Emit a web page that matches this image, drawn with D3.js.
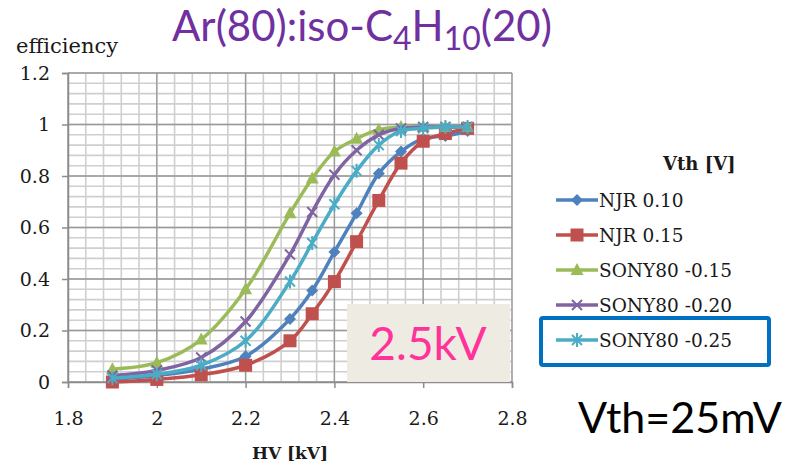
<!DOCTYPE html>
<html>
<head>
<meta charset="utf-8">
<script src="https://cdn.jsdelivr.net/npm/d3@7"></script>
<style>
  body { margin: 0; background: #fff; }
  svg { display: block; }
</style>
</head>
<body>
<div id="vis"></div>
<script>
// HV points (kV) shared by every series
const hv = [1.9, 2.0, 2.1, 2.2, 2.3, 2.35, 2.4, 2.45, 2.5, 2.55, 2.6, 2.65, 2.7];

const njr010 = [0.01, 0.025, 0.05, 0.10, 0.245, 0.355, 0.505, 0.655, 0.81, 0.895, 0.945, 0.955, 0.975];
const njr015 = [0.0, 0.01, 0.028, 0.065, 0.16, 0.265, 0.39, 0.545, 0.705, 0.85, 0.935, 0.965, 0.985];
const sony015 = [0.05, 0.075, 0.165, 0.36, 0.655, 0.79, 0.895, 0.945, 0.98, 0.99, 0.99, 0.99, 0.99];
const sony020 = [0.025, 0.045, 0.095, 0.235, 0.495, 0.66, 0.805, 0.90, 0.96, 0.985, 0.99, 0.99, 0.99];
const sony025 = [0.015, 0.03, 0.065, 0.16, 0.39, 0.54, 0.69, 0.82, 0.92, 0.975, 0.985, 0.99, 0.99];

const seriesNames = ["NJR 0.10", "NJR 0.15", "SONY80 -0.15", "SONY80 -0.20", "SONY80 -0.25"];
const seriesValues = [njr010, njr015, sony015, sony020, sony025];
const seriesColors = ["#4F81BD", "#C0504D", "#9BBB59", "#8064A2", "#4BACC6"];
const seriesMarkers = ["diamond", "square", "triangle", "x", "star"];

const xTicks = [1.8, 2, 2.2, 2.4, 2.6, 2.8];
const yTicks = [0, 0.2, 0.4, 0.6, 0.8, 1, 1.2];

var W = 785, H = 464;
var plot = {left: 68, right: 512, top: 73, bottom: 382};
var serif = "'DejaVu Serif', serif";
var sans = "Lato, 'Open Sans', sans-serif";

var svg = d3.select("#vis").append("svg").attr("width", W).attr("height", H);

var x = d3.scaleLinear().domain([1.8, 2.8]).range([plot.left, plot.right]);
var y = d3.scaleLinear().domain([0, 1.2]).range([plot.bottom, plot.top]);

// minor grid every 0.04, major every 0.2
var minorX = d3.range(0, 26).map(i => 1.8 + i * 0.04);
var minorY = d3.range(0, 31).map(i => i * 0.04);
var grid = svg.append("g");
grid.selectAll(".mx").data(minorX).join("line")
  .attr("x1", d => x(d)).attr("x2", d => x(d))
  .attr("y1", plot.top).attr("y2", plot.bottom)
  .attr("stroke", "#cfcfcf").attr("stroke-width", 1.6);
grid.selectAll(".my").data(minorY).join("line")
  .attr("y1", d => y(d)).attr("y2", d => y(d))
  .attr("x1", plot.left).attr("x2", plot.right)
  .attr("stroke", "#cfcfcf").attr("stroke-width", 1.6);
grid.selectAll(".Mx").data(xTicks).join("line")
  .attr("x1", d => x(d)).attr("x2", d => x(d))
  .attr("y1", plot.top).attr("y2", plot.bottom)
  .attr("stroke", "#999").attr("stroke-width", 1.3);
grid.selectAll(".My").data(yTicks).join("line")
  .attr("y1", d => y(d)).attr("y2", d => y(d))
  .attr("x1", plot.left).attr("x2", plot.right)
  .attr("stroke", "#999").attr("stroke-width", 1.3);

// axes
var xAxis = svg.append("g")
  .attr("transform", "translate(0," + plot.bottom + ")")
  .call(d3.axisBottom(x).tickValues(xTicks).tickFormat(d3.format("")).tickSize(6).tickPadding(24));
var yAxis = svg.append("g")
  .attr("transform", "translate(" + plot.left + ",0)")
  .call(d3.axisLeft(y).tickValues(yTicks).tickFormat(d3.format("")).tickSize(6).tickPadding(12));
[xAxis, yAxis].forEach(a => {
  a.attr("font-family", serif);
  a.select(".domain").attr("stroke", "#8c8c8c").attr("stroke-width", 1.5);
  a.selectAll(".tick line").attr("stroke", "#8c8c8c").attr("stroke-width", 1.5);
  a.selectAll("text").attr("font-family", serif).attr("font-size", 19).attr("fill", "#1a1a1a");
});

svg.append("text").attr("x", 16).attr("y", 53)
  .attr("font-family", serif).attr("font-size", 21).attr("fill", "#1a1a1a")
  .text("efficiency");
svg.append("text").attr("x", 290).attr("y", 459).attr("text-anchor", "middle")
  .attr("font-family", serif).attr("font-size", 17).attr("font-weight", "bold").attr("fill", "#1a1a1a")
  .text("HV [kV]");

// marker shapes
function drawMarker(g, type, color) {
  if (type === "diamond") {
    g.append("path").attr("d", "M0,-6L6,0L0,6L-6,0Z").attr("fill", color);
  } else if (type === "square") {
    g.append("rect").attr("x", -6.5).attr("y", -6.5).attr("width", 13).attr("height", 13).attr("fill", color);
  } else if (type === "triangle") {
    g.append("path").attr("d", "M0,-7L6.5,5L-6.5,5Z").attr("fill", color);
  } else if (type === "x") {
    g.append("path").attr("d", "M-5,-5L5,5M5,-5L-5,5")
      .attr("stroke", color).attr("stroke-width", 2).attr("fill", "none");
  } else {
    g.append("path").attr("d", "M-5,-5L5,5M5,-5L-5,5M0,-7L0,7")
      .attr("stroke", color).attr("stroke-width", 2).attr("fill", "none");
  }
}

var line = d3.line().curve(d3.curveCatmullRom.alpha(0.5))
  .x(d => x(d[0])).y(d => y(d[1]));

for (var i = 0; i < seriesValues.length; i++) {
  var pts = hv.map((h, j) => [h, seriesValues[i][j]]);
  var g = svg.append("g");
  g.append("path").datum(pts)
    .attr("fill", "none").attr("stroke", seriesColors[i]).attr("stroke-width", 3.5)
    .attr("d", line);
  pts.forEach(p => {
    var m = g.append("g").attr("transform", "translate(" + x(p[0]) + "," + y(p[1]) + ")");
    drawMarker(m, seriesMarkers[i], seriesColors[i]);
  });
}

// legend
svg.append("text").attr("x", 663).attr("y", 170)
  .attr("font-family", serif).attr("font-size", 18).attr("font-weight", "bold").attr("fill", "#1a1a1a")
  .text("Vth [V]");
seriesNames.forEach((name, i) => {
  var ly = 200 + i * 35;
  var lg = svg.append("g");
  lg.append("line").attr("x1", 556).attr("x2", 598).attr("y1", ly).attr("y2", ly)
    .attr("stroke", seriesColors[i]).attr("stroke-width", 3.5);
  drawMarker(lg.append("g").attr("transform", "translate(577," + ly + ")"), seriesMarkers[i], seriesColors[i]);
  lg.append("text").attr("x", 599).attr("y", ly + 7)
    .attr("font-family", serif).attr("font-size", 18.5).attr("fill", "#1a1a1a")
    .text(name);
});
svg.append("rect").attr("x", 541).attr("y", 318).attr("width", 228).attr("height", 47)
  .attr("rx", 2).attr("fill", "none").attr("stroke", "#0070C0").attr("stroke-width", 4);

// annotations
svg.append("rect").attr("x", 347).attr("y", 304).attr("width", 163).attr("height", 78)
  .attr("fill", "#EEEBE2");
svg.append("text").attr("x", 428).attr("y", 360).attr("text-anchor", "middle")
  .attr("font-family", sans).attr("font-size", 46).attr("fill", "#FF3399")
  .text("2.5kV");
svg.append("text").attr("x", 578).attr("y", 433)
  .attr("font-family", sans).attr("font-size", 43).attr("fill", "#000")
  .text("Vth=25mV");

var title = svg.append("text").attr("x", 172).attr("y", 41)
  .attr("font-family", sans).attr("font-size", 42).attr("fill", "#7030A0");
title.append("tspan").text("Ar(80):iso-C");
title.append("tspan").attr("font-size", 32).attr("dy", 9).text("4");
title.append("tspan").attr("dy", -9).text("H");
title.append("tspan").attr("font-size", 32).attr("dy", 9).text("10");
title.append("tspan").attr("dy", -9).text("(20)");
</script>
</body>
</html>
